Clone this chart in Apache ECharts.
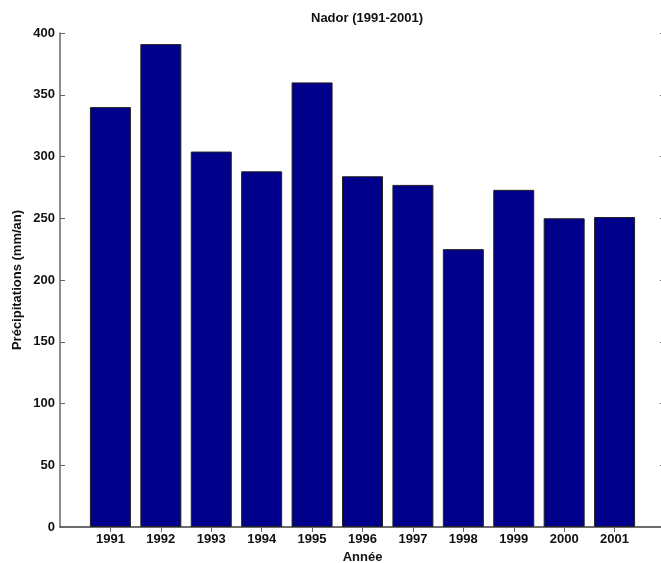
<!DOCTYPE html>
<html>
<head>
<meta charset="utf-8">
<script src="https://cdn.jsdelivr.net/npm/echarts@6/dist/echarts.min.js"></script>
<style>
  html, body { margin: 0; padding: 0; background: #fff; }
  #chart { width: 661px; height: 563px; }
</style>
</head>
<body>
<div id="chart"></div>
<script>
// Annual precipitation at Nador, 1991-2001
const years = [1991, 1992, 1993, 1994, 1995, 1996, 1997, 1998, 1999, 2000, 2001];
const precipitation = [340, 391, 304, 288, 360, 284, 277, 225, 273, 250, 251];
const yTicks = [0, 50, 100, 150, 200, 250, 300, 350, 400];

const FONT = '"Liberation Sans", Arial, sans-serif';
const FONT_SIZE = 13;
const AXIS_GREY = '#666';
const TEXT = { fontFamily: FONT, fontSize: FONT_SIZE, fontWeight: 'bold', color: '#111' };

const chart = echarts.init(document.getElementById('chart'), null, { renderer: 'canvas' });

const xMin = years[0] - 1;
const xMax = years[years.length - 1] + 1;

const frameAxis = {
  axisLine: { show: true, lineStyle: { color: AXIS_GREY, width: 1.5 } },
  axisTick: { show: true, inside: true, length: 5, lineStyle: { color: AXIS_GREY, width: 1 } },
  splitLine: { show: false }
};

chart.setOption({
  animation: false,
  backgroundColor: '#fff',
  title: {
    text: 'Nador (1991-2001)',
    left: 362,
    textAlign: 'center',
    top: 7,
    textStyle: TEXT
  },
  // the plot box runs slightly past the right edge of the canvas
  grid: { left: 60, top: 33, width: 605, height: 494, containLabel: false, outerBoundsMode: 'none' },
  xAxis: [
    Object.assign({}, frameAxis, {
      type: 'value', position: 'bottom', min: xMin, max: xMax, interval: 1,
      name: 'Année', nameLocation: 'middle', nameGap: 21,
      nameTextStyle: TEXT,
      axisTick: { show: true, inside: true, length: 5, lineStyle: { color: AXIS_GREY },
                  customValues: years },
      axisLabel: Object.assign({
        show: true, margin: 6,
        customValues: years,
        formatter: v => (years.indexOf(v) >= 0 ? String(v) : '')
      }, TEXT)
    }),
    Object.assign({}, frameAxis, {
      type: 'value', position: 'top', min: xMin, max: xMax, interval: 1,
      axisTick: { show: true, inside: true, length: 5, lineStyle: { color: AXIS_GREY },
                  customValues: years },
      axisLabel: { show: false }
    })
  ],
  yAxis: [
    Object.assign({}, frameAxis, {
      type: 'value', position: 'left', min: yTicks[0], max: yTicks[yTicks.length - 1], interval: 50,
      name: 'Précipitations (mm/an)', nameLocation: 'middle', nameGap: 36, nameMoveOverlap: false,
      nameTextStyle: TEXT,
      axisLabel: Object.assign({ show: true, margin: 5 }, TEXT)
    }),
    Object.assign({}, frameAxis, {
      type: 'value', position: 'right', min: yTicks[0], max: yTicks[yTicks.length - 1], interval: 50,
      axisLabel: { show: false }
    })
  ],
  series: [{
    type: 'bar',
    xAxisIndex: 0,
    yAxisIndex: 0,
    barWidth: 41,
    data: years.map((y, i) => [y, precipitation[i]]),
    itemStyle: { color: '#00008b', borderColor: '#222', borderWidth: 1 }
  }]
});
</script>
</body>
</html>
